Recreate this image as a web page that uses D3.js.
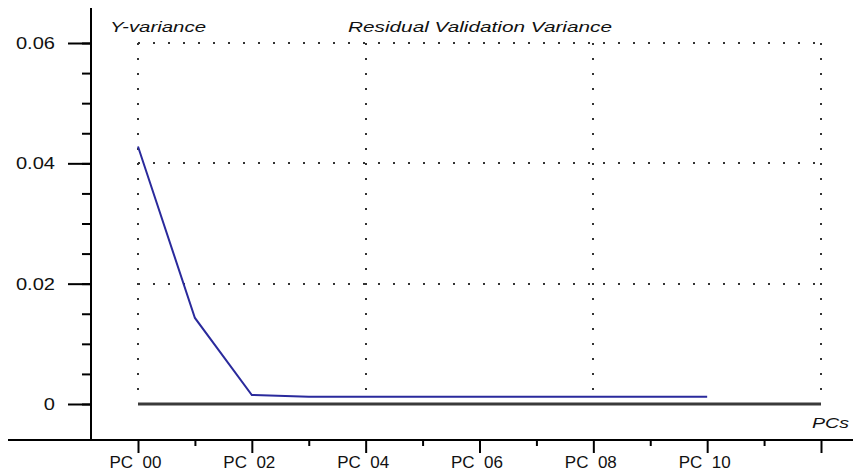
<!DOCTYPE html>
<meta charset="utf-8">
<html>
<head>
  <title>Residual Validation Variance</title>
  <script src="https://d3js.org/d3.v7.min.js"></script>
</head>
<style>
  body { margin: 0; background-color: #ffffff; }
  svg { display: block; }
  text { font-family: 'Liberation Sans', Arial, sans-serif; fill: #111; }
</style>
<body>
<script>

  // data
  var pcs = [0, 1, 2, 3, 4, 5, 6, 7, 8, 9, 10];
  var yVariance = [0.0428, 0.0143, 0.0015, 0.0012, 0.0012, 0.0012, 0.0012, 0.0012, 0.0012, 0.0012, 0.0012];
  var xTickLabels = ["PC  00", "PC  02", "PC  04", "PC  06", "PC  08", "PC  10", ""];
  var yTicks = [0, 0.02, 0.04, 0.06];
  var yTickLabels = ["0", "0.02", "0.04", "0.06"];

  var width = 853, height = 473;

  var svg = d3.select("body").append("svg")
      .attr("width", width)
      .attr("height", height);

  var x = d3.scaleLinear().domain([0, 12]).range([138, 821]);
  var y = d3.scaleLinear().domain([0, 0.06]).range([404, 43]);

  //dotted grid
  var grid = svg.append("g")
      .attr("stroke", "#333")
      .attr("stroke-width", 2)
      .attr("stroke-dasharray", "2,13");

  grid.selectAll("line.h")
    .data([0.02, 0.04, 0.06])
    .enter()
      .append("line")
      .attr("class", "h")
      .attr("x1", x(0)).attr("x2", x(12) + 2)
      .attr("y1", function(d) { return Math.round(y(d)); })
      .attr("y2", function(d) { return Math.round(y(d)); });

  grid.selectAll("line.v")
    .data([0, 4, 8, 12])
    .enter()
      .append("line")
      .attr("class", "v")
      .attr("x1", function(d) { return Math.round(x(d)); })
      .attr("x2", function(d) { return Math.round(x(d)); })
      .attr("y1", y(0.06))
      .attr("y2", y(0) - 8);

  //zero line
  svg.append("line")
      .attr("x1", x(0)).attr("x2", x(12))
      .attr("y1", y(0)).attr("y2", y(0))
      .attr("stroke", "#3a3a3a")
      .attr("stroke-width", 3);

  //y axis
  var yAxis = d3.axisLeft(y)
      .tickValues(yTicks)
      .tickSize(23)
      .tickPadding(13)
      .tickFormat(function(d, i) { return yTickLabels[i]; });

  var yMinor = d3.axisLeft(y)
      .tickValues(d3.range(0, 13).map(function(i) { return i * 0.005; }))
      .tickSize(9)
      .tickFormat("");

  var gy = svg.append("g").attr("transform", "translate(91,0)");
  gy.append("g").call(yMinor);
  gy.append("g").call(yAxis);

  svg.selectAll(".domain").remove();
  svg.selectAll(".tick line").attr("stroke", "#000").attr("stroke-width", 2);
  gy.selectAll("text")
      .attr("font-size", 17)
      .attr("fill", "#111")
      .style("font-family", "'Liberation Sans', Arial, sans-serif")
      .each(function() {
        // the original font is wider than Arial
        var w = this.getComputedTextLength();
        d3.select(this)
          .attr("textLength", w * 1.18)
          .attr("lengthAdjust", "spacingAndGlyphs");
      });

  svg.append("line")
      .attr("x1", 91).attr("x2", 91)
      .attr("y1", 8).attr("y2", 440)
      .attr("stroke", "#000").attr("stroke-width", 2);

  //x axis
  var xMinor = d3.axisBottom(x)
      .tickValues(d3.range(1, 12, 2))
      .tickSize(6)
      .tickFormat("");

  var xAxis = d3.axisBottom(x)
      .tickValues(d3.range(0, 13, 2))
      .tickSize(13)
      .tickPadding(3)
      .tickFormat(function(d, i) { return xTickLabels[i]; });

  var gx = svg.append("g").attr("transform", "translate(0,440)");
  gx.append("g").call(xMinor);
  gx.append("g").call(xAxis);
  gx.selectAll(".domain").remove();
  gx.selectAll(".tick line").attr("stroke", "#000").attr("stroke-width", 2);
  gx.selectAll("text")
      .attr("font-size", 17)
      .attr("fill", "#111")
      .attr("dx", -3)
      .attr("dy", "0.68em")
      .style("white-space", "pre")
      .style("font-family", "'Liberation Sans', Arial, sans-serif");

  svg.append("line")
      .attr("x1", 8).attr("x2", width)
      .attr("y1", 440).attr("y2", 440)
      .attr("stroke", "#000").attr("stroke-width", 2);

  //the series
  var line = d3.line()
      .x(function(d, i) { return x(pcs[i]); })
      .y(function(d) { return y(d); });

  svg.append("path")
      .datum(yVariance)
      .attr("d", line)
      .attr("fill", "none")
      .attr("stroke", "#2a2a9c")
      .attr("stroke-width", 2);

  //labels
  svg.append("text")
      .attr("x", 110).attr("y", 32)
      .attr("font-size", 15)
      .attr("font-style", "italic")
      .attr("textLength", 96)
      .attr("lengthAdjust", "spacingAndGlyphs")
      .text("Y-variance");

  svg.append("text")
      .attr("x", 348).attr("y", 32)
      .attr("font-size", 15)
      .attr("font-style", "italic")
      .attr("textLength", 264)
      .attr("lengthAdjust", "spacingAndGlyphs")
      .text("Residual Validation Variance");

  svg.append("text")
      .attr("x", 812).attr("y", 428)
      .attr("font-size", 15)
      .attr("font-style", "italic")
      .attr("textLength", 37)
      .attr("lengthAdjust", "spacingAndGlyphs")
      .text("PCs");

</script>
</body>
</html>
